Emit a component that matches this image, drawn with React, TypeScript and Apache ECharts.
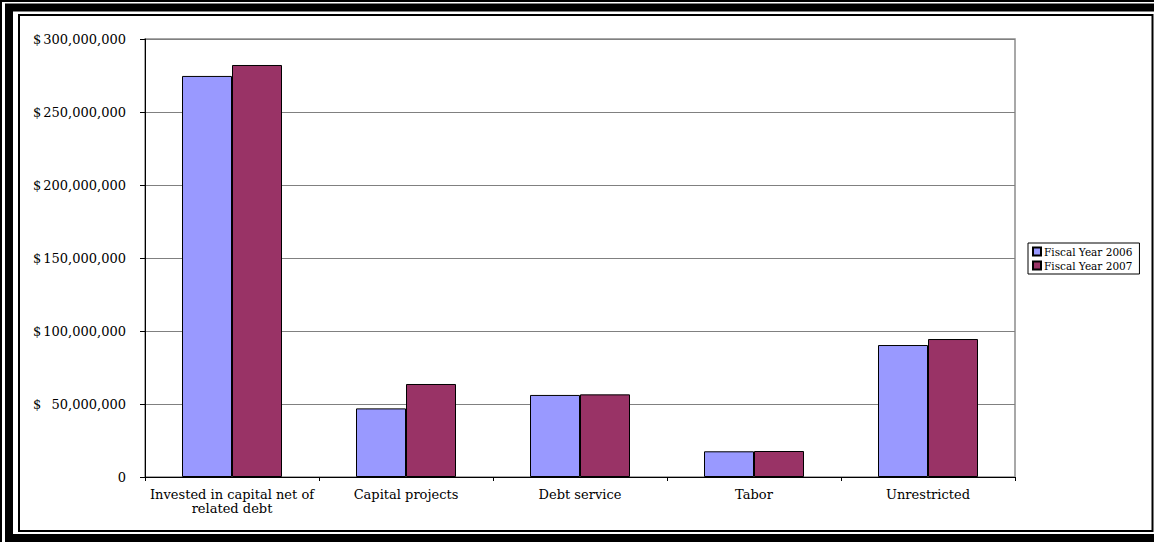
import React, { useEffect, useRef } from "react";
import * as echarts from "echarts";

const categories = [
  "Invested in capital net of\nrelated debt",
  "Capital projects",
  "Debt service",
  "Tabor",
  "Unrestricted",
];
const fy2006 = [274700000, 47000000, 56200000, 17600000, 90400000];
const fy2007 = [282200000, 63700000, 56600000, 17800000, 94500000];
const seriesNames = ["Fiscal Year 2006", "Fiscal Year 2007"];

const FONT = "DejaVu Serif";

export default function App() {
  const ref = useRef<HTMLDivElement>(null);
  useEffect(() => {
    if (!ref.current) return;
    const chart = echarts.init(ref.current, null, { renderer: "svg" });
    const fmt = (v: number) => {
      if (v === 0) return "{n|0}";
      return "{d|$}{n|" + v.toLocaleString("en-US") + "}";
    };
    chart.setOption({
      animation: false,
      backgroundColor: "#ffffff",
      grid: {
        left: 145,
        top: 39,
        right: 139,
        bottom: 65,
        show: true,
        borderColor: "#8c8c8c",
        borderWidth: 1.5,
        backgroundColor: "transparent",
      },
      legend: {
        orient: "vertical",
        left: 1028,
        top: 243,
        itemWidth: 8,
        itemHeight: 8,
        itemGap: 3,
        padding: [3, 7, 3, 4],
        borderColor: "#000",
        borderWidth: 1,
        icon: "rect",
        data: seriesNames,
        textStyle: {
          fontFamily: FONT,
          fontSize: 10.5,
          lineHeight: 11,
          color: "#000",
          padding: [0, 0, 0, -2],
        },
      },
      xAxis: {
        type: "category",
        data: categories,
        axisLine: { lineStyle: { color: "#000", width: 1 } },
        axisTick: { show: true, length: 4, lineStyle: { color: "#000" } },
        axisLabel: {
          fontFamily: FONT,
          fontSize: 13,
          color: "#000",
          lineHeight: 14,
          margin: 10,
          interval: 0,
        },
      },
      yAxis: {
        type: "value",
        min: 0,
        max: 300000000,
        interval: 50000000,
        axisLine: { show: true, lineStyle: { color: "#000", width: 1 } },
        axisTick: { show: true, length: 5, lineStyle: { color: "#000" } },
        splitLine: { show: true, lineStyle: { color: "#808080", width: 1 } },
        axisLabel: {
          formatter: (v: number) => fmt(v),
          margin: 19,
          color: "#000",
          fontFamily: FONT,
          fontSize: 13,
          rich: {
            d: { width: 7, align: "left", fontFamily: FONT, fontSize: 13, color: "#000" },
            n: { width: 86, align: "right", fontFamily: FONT, fontSize: 13, color: "#000" },
          },
        },
      },
      series: [
        {
          name: seriesNames[0],
          type: "bar",
          data: fy2006,
          barWidth: 50,
          barGap: "0%",
          itemStyle: { color: "#9999FF", borderColor: "#000", borderWidth: 1 },
        },
        {
          name: seriesNames[1],
          type: "bar",
          data: fy2007,
          barWidth: 50,
          barGap: "0%",
          itemStyle: { color: "#993366", borderColor: "#000", borderWidth: 1 },
        },
      ],
      graphic: [
        {
          type: "rect",
          silent: true,
          shape: { x: 1, y: 1, width: 1200, height: 600 },
          style: { fill: "none", stroke: "#000", lineWidth: 2 },
        },
        {
          type: "rect",
          silent: true,
          shape: { x: 9, y: 7.5, width: 1151, height: 530.5 },
          style: { fill: "none", stroke: "#000", lineWidth: 8 },
        },
        {
          type: "rect",
          silent: true,
          shape: { x: 19, y: 15, width: 1133.5, height: 516 },
          style: { fill: "none", stroke: "#000", lineWidth: 2 },
        },
      ],
    });
    return () => chart.dispose();
  }, []);
  return (
    <div
      ref={ref}
      style={{ position: "fixed", left: 0, top: 0, width: 1154, height: 542 }}
    />
  );
}
